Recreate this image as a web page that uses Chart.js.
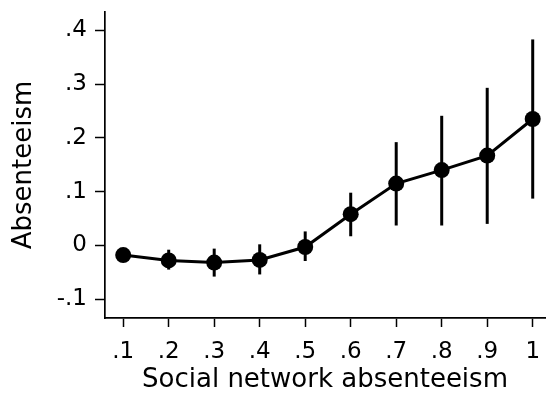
<!DOCTYPE html>
<html>
<head>
<meta charset="utf-8">
<script src="https://cdn.jsdelivr.net/npm/chart.js@4.4.1/dist/chart.umd.min.js"></script>
<style>
  html, body { margin: 0; padding: 0; background: #fff; }
  #wrap { width: 553px; height: 394px; position: relative; }
</style>
</head>
<body>
<div id="wrap"><canvas id="c"></canvas></div>
<script>
// Predicted absenteeism by social-network absenteeism, with confidence intervals
const networkLevels = [0.1, 0.2, 0.3, 0.4, 0.5, 0.6, 0.7, 0.8, 0.9, 1.0];
const absenteeism   = [-0.018, -0.028, -0.032, -0.027, -0.003, 0.058, 0.115, 0.140, 0.167, 0.235];
const ciLower       = [-0.026, -0.045, -0.058, -0.054, -0.029, 0.017, 0.037, 0.037, 0.040, 0.087];
const ciUpper       = [-0.010, -0.008, -0.006, 0.002, 0.026, 0.098, 0.192, 0.241, 0.293, 0.383];
const yTicks        = [-0.1, 0, 0.1, 0.2, 0.3, 0.4];
const xTicks        = [0.1, 0.2, 0.3, 0.4, 0.5, 0.6, 0.7, 0.8, 0.9, 1.0];

function fmt(v) {
  const r = Math.round(v * 10) / 10;
  if (r === 0) return '0';
  if (r === 1) return '1';
  return r.toFixed(1).replace(/^(-?)0\./, '$1.');
}

const errorBars = {
  id: 'errorBars',
  beforeDatasetsDraw(chart) {
    const { ctx, scales: { x, y } } = chart;
    ctx.save();
    ctx.strokeStyle = '#000';
    ctx.lineWidth = 3;
    networkLevels.forEach((v, i) => {
      const px = x.getPixelForValue(v);
      ctx.beginPath();
      ctx.moveTo(px, y.getPixelForValue(ciLower[i]));
      ctx.lineTo(px, y.getPixelForValue(ciUpper[i]));
      ctx.stroke();
    });
    ctx.restore();
  }
};

const family = '"DejaVu Sans", "Liberation Sans", Arial, sans-serif';
const tickFont = { family, size: 23 };
const yTitleFont = { family, size: 26 };
const xTitleFont = { family, size: 26, lineHeight: 1 };

function noPadding(s) {
  s.paddingTop = 0; s.paddingBottom = 0; s.paddingLeft = 0; s.paddingRight = 0;
}

new Chart(document.getElementById('c'), {
  type: 'scatter',
  data: {
    datasets: [{
      data: networkLevels.map((v, i) => ({ x: v, y: absenteeism[i] })),
      showLine: true,
      borderColor: '#000',
      borderWidth: 3,
      backgroundColor: '#000',
      pointRadius: 8,
      pointHoverRadius: 8,
      pointBorderWidth: 0
    }]
  },
  options: {
    responsive: true,
    maintainAspectRatio: false,
    animation: false,
    events: [],
    layout: { padding: { top: 12, right: 3, left: 0, bottom: 0 } },
    plugins: { legend: { display: false }, tooltip: { enabled: false } },
    scales: {
      x: {
        type: 'linear',
        min: 0.06,
        max: 1.027,
        afterBuildTicks(s) { s.ticks = xTicks.map(v => ({ value: v })); },
        afterFit(s) { s.height = 76; noPadding(s); },
        grid: { display: true, drawOnChartArea: false, drawTicks: true, tickLength: 9, tickWidth: 1.5, tickColor: '#000' },
        border: { display: true, color: '#000', width: 1.7 },
        ticks: { color: '#000', font: tickFont, padding: 11, maxRotation: 0, autoSkip: false, callback: v => fmt(v) },
        title: { display: true, text: 'Social network absenteeism', color: '#000', font: xTitleFont, padding: { top: 0, bottom: 1 } }
      },
      y: {
        type: 'linear',
        min: -0.135,
        max: 0.434,
        afterBuildTicks(s) { s.ticks = yTicks.map(v => ({ value: v })); },
        afterFit(s) { s.width = 105; noPadding(s); },
        grid: { display: true, drawOnChartArea: false, drawTicks: true, tickLength: 10, tickWidth: 1.5, tickColor: '#000' },
        border: { display: true, color: '#000', width: 1.7 },
        ticks: { color: '#000', font: tickFont, padding: 8, autoSkip: false, callback: v => fmt(v) },
        title: { display: true, text: 'Absenteeism', color: '#000', font: yTitleFont, padding: { top: 9, bottom: 0 } }
      }
    }
  },
  plugins: [errorBars]
});
</script>
</body>
</html>
